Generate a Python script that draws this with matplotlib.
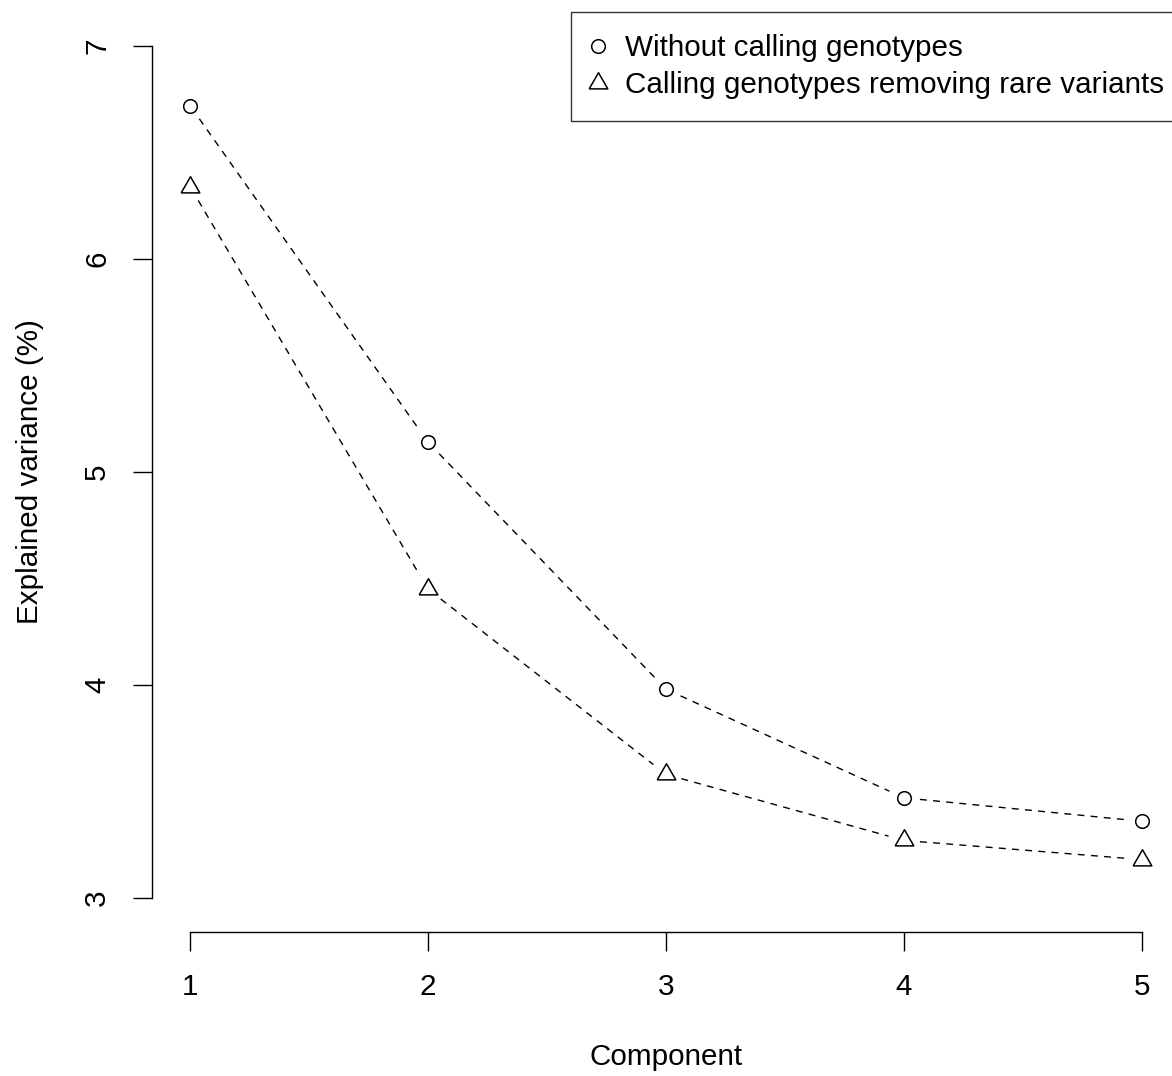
import matplotlib
matplotlib.use("Agg")
import matplotlib.pyplot as plt
import numpy as np

plt.rcParams['font.family'] = ['Liberation Sans', 'DejaVu Sans']

components = [1, 2, 3, 4, 5]
without_calling = [6.72, 5.14, 3.98, 3.47, 3.36]
calling_rare_removed = [6.34, 4.45, 3.58, 3.27, 3.18]
labels = ["Without calling genotypes", "Calling genotypes removing rare variants"]

W, H = 1172, 1076
fig = plt.figure(figsize=(W / 100, H / 100), dpi=100)
ax = fig.add_axes([152 / W, (H - 932) / H, 1028 / W, 920 / H])
ax.set_xlim(0.84, 5.16)
ax.set_ylim(2.84, 7.16)

FS = 21.3

# equilateral triangle like R's pch = 2
tri = [(-1, -0.577), (1, -0.577), (0, 1.155), (-1, -0.577)]


def gapped_line(x, y, gap_px=16):
    # R type="b": dashed segments that stop short of each point
    fig.canvas.draw()
    pts = ax.transData.transform(np.column_stack([x, y]))
    inv = ax.transData.inverted()
    for p, q in zip(pts[:-1], pts[1:]):
        d = q - p
        n = np.hypot(*d)
        if n <= 2 * gap_px:
            continue
        u = d / n
        a = inv.transform(p + u * gap_px)
        b = inv.transform(q - u * gap_px)
        ax.plot([a[0], b[0]], [a[1], b[1]], color='black', lw=1.0,
                linestyle=(0, (5.0, 4.5)))


gapped_line(components, without_calling)
gapped_line(components, calling_rare_removed)
h1, = ax.plot(components, without_calling, 'o', ms=9.8, mfc='none', mec='black', mew=1.1,
              linestyle='none', label=labels[0])
h2, = ax.plot(components, calling_rare_removed, marker=tri, ms=15.5, mfc='none', mec='black',
              mew=1.1, linestyle='none', label=labels[1])

for s in ['top', 'right']:
    ax.spines[s].set_visible(False)
ax.spines['left'].set_bounds(3, 7)
ax.spines['bottom'].set_bounds(1, 5)
ax.spines['left'].set_linewidth(1.0)
ax.spines['bottom'].set_linewidth(1.0)

ax.set_xticks(components)
ax.set_yticks([3, 4, 5, 6, 7])
ax.tick_params(axis='both', direction='out', length=13.5, width=1.0, labelsize=FS)
ax.tick_params(axis='x', pad=16)
ax.tick_params(axis='y', pad=16)
for t in ax.get_yticklabels():
    t.set_rotation(90)
    t.set_va('center')

ax.set_xlabel("Component", fontsize=FS, labelpad=30)
ax.set_ylabel("Explained variance (%)", fontsize=FS, labelpad=28)

leg = ax.legend(handles=[h1, h2], loc='upper left', bbox_to_anchor=((571 - 152) / 1028, 1.0),
                borderaxespad=0, frameon=True, fancybox=False, edgecolor='black',
                fontsize=FS, handlelength=0.3, handletextpad=0.78, borderpad=0.75,
                labelspacing=0.3)
leg.get_frame().set_linewidth(1.0)

fig.savefig("out.png", dpi=100)
